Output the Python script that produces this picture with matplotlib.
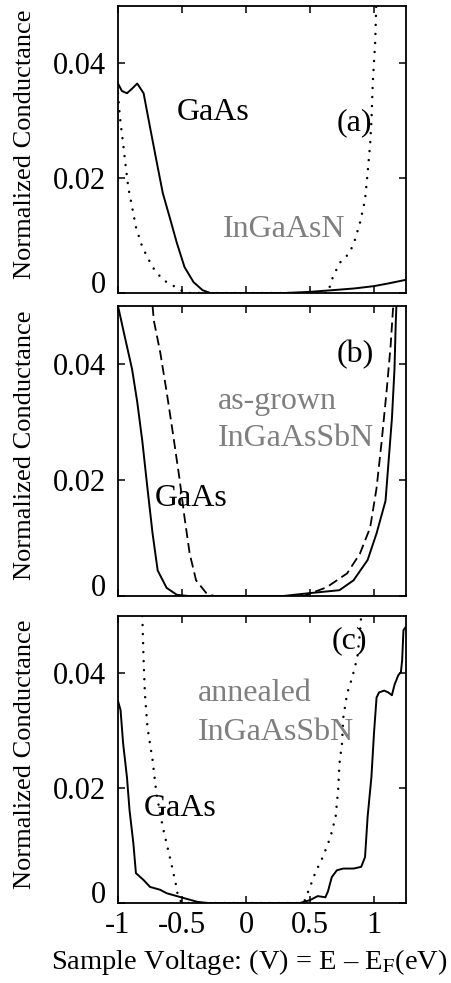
import numpy as np
import matplotlib
matplotlib.use('Agg')
import matplotlib.pyplot as plt

plt.rcParams['font.family'] = ['Liberation Serif', 'DejaVu Serif']
plt.rcParams['mathtext.fontset'] = 'stix'

# ── Data: normalized conductance vs sample voltage ─────────────────────────
# (a) GaAs vs InGaAsN
a_gaas_x = [-1.0, -0.97, -0.93, -0.89, -0.85, -0.80, -0.75, -0.70, -0.65, -0.59,
            -0.54, -0.48, -0.41, -0.34, -0.28, 0.0, 0.3, 0.5, 0.68, 0.85, 1.0, 1.12, 1.25]
a_gaas_y = [0.0365, 0.0352, 0.0348, 0.0356, 0.0365, 0.0348, 0.0289, 0.0231, 0.0174, 0.0127,
            0.0087, 0.0045, 0.0019, 0.0005, 0.0, 0.0, 0.0, 0.0002, 0.0005, 0.0008, 0.0012, 0.0017, 0.0023]
a_ngn_x = [-1.0, -0.985, -0.96, -0.945, -0.92, -0.89, -0.86, -0.81, -0.73, -0.65, -0.54, -0.47,
           0.0, 0.64, 0.67, 0.73, 0.81, 0.85, 0.89, 0.93, 0.95, 0.97, 0.98, 0.99, 1.01, 1.017]
a_ngn_y = [0.0348, 0.0306, 0.026, 0.0231, 0.0184, 0.015, 0.0115, 0.008, 0.0045, 0.0023, 0.0009, 0.0,
           0.0, 0.0, 0.0023, 0.0052, 0.007, 0.0092, 0.0122, 0.0162, 0.0209, 0.026, 0.030, 0.0365, 0.044, 0.050]

# (b) GaAs vs as-grown InGaAsSbN
b_gaas_x = [-1.0, -0.95, -0.89, -0.85, -0.81, -0.77, -0.73, -0.69, -0.62, -0.54, -0.45,
            0.0, 0.29, 0.5, 0.73, 0.84, 0.95, 1.02, 1.09, 1.11, 1.14, 1.16, 1.17, 1.175]
b_gaas_y = [0.05, 0.045, 0.0391, 0.0335, 0.0267, 0.0186, 0.0108, 0.0044, 0.0014, 0.0002, 0.0,
            0.0, 0.0, 0.0005, 0.001, 0.0027, 0.0062, 0.0108, 0.0164, 0.0221, 0.0306, 0.0391, 0.0472, 0.050]
b_sbn_x = [-0.73, -0.72, -0.67, -0.62, -0.57, -0.52, -0.48, -0.44, -0.39, -0.31, -0.25,
           0.0, 0.45, 0.63, 0.79, 0.89, 0.97, 1.02, 1.06, 1.10, 1.13, 1.15]
b_sbn_y = [0.05, 0.0475, 0.042, 0.0352, 0.0279, 0.0203, 0.0135, 0.0073, 0.0027, 0.0005, 0.0,
           0.0, 0.0, 0.0015, 0.0039, 0.0073, 0.0118, 0.0186, 0.0267, 0.0357, 0.0432, 0.050]

# (c) GaAs vs annealed InGaAsSbN
c_gaas_x = [-1.0, -0.98, -0.96, -0.93, -0.91, -0.88, -0.86, -0.80, -0.75, -0.67, -0.62, -0.54,
            -0.46, -0.38, -0.30, 0.0, 0.42, 0.50, 0.56, 0.62, 0.64, 0.67, 0.71, 0.76, 0.84, 0.90,
            0.93, 0.95, 0.98, 1.00, 1.02, 1.04, 1.08, 1.11, 1.14, 1.16, 1.19, 1.21, 1.22, 1.23, 1.245]
c_gaas_y = [0.0352, 0.0336, 0.0278, 0.0219, 0.0162, 0.0104, 0.0052, 0.004, 0.0028, 0.0023, 0.0017, 0.0012,
            0.0007, 0.0002, 0.0, 0.0, 0.0, 0.0005, 0.0012, 0.001, 0.002, 0.0045, 0.0057, 0.006, 0.006, 0.0063,
            0.008, 0.015, 0.022, 0.0296, 0.0358, 0.0367, 0.037, 0.0367, 0.0362, 0.038, 0.0397, 0.0402, 0.0423, 0.0475, 0.048]
c_sbn_x = [-0.81, -0.80, -0.79, -0.77, -0.73, -0.70, -0.65, -0.59, -0.55, -0.53, -0.50,
           0.0, 0.44, 0.46, 0.50, 0.54, 0.60, 0.66, 0.70, 0.72, 0.73, 0.75, 0.76, 0.79, 0.83, 0.87, 0.89, 0.90]
c_sbn_y = [0.05, 0.0423, 0.0365, 0.0306, 0.0249, 0.0191, 0.0132, 0.0075, 0.0035, 0.001, 0.0,
           0.0, 0.0, 0.0005, 0.0028, 0.0052, 0.008, 0.0115, 0.015, 0.0197, 0.0243, 0.0278, 0.0323, 0.0365, 0.0393, 0.0428, 0.047, 0.05]

x_ticks = [-1, -0.5, 0, 0.5, 1]
x_ticklabels = ['-1', '-0.5', '0', '0.5', '1']
y_ticks = [0, 0.02, 0.04]
y_ticklabels = ['0', '0.02', '0.04']

GRAY = '#7f7f7f'
SOLID = dict(color='black', lw=1.4, solid_joinstyle='round')
DOTTED = dict(color='black', lw=1.8, linestyle=(0, (0.01, 3.6)), dash_capstyle='round')
DASHED = dict(color='black', lw=1.3, linestyle=(0, (5.5, 2.8)))
TICK_FS = 22
NOTE_FS = 23

fig = plt.figure(figsize=(4.52, 9.83), dpi=100)
fig.patch.set_facecolor('white')

L, W = 118 / 452, 288 / 452
ax_a = fig.add_axes([L, 1 - 293 / 983, W, 287 / 983])
ax_b = fig.add_axes([L, 1 - 596 / 983, W, 290 / 983])
ax_c = fig.add_axes([L, 1 - 903 / 983, W, 287 / 983])

ax_a.plot(a_gaas_x, a_gaas_y, **SOLID)
ax_a.plot(a_ngn_x, a_ngn_y, **DOTTED)
ax_b.plot(b_gaas_x, b_gaas_y, **SOLID)
ax_b.plot(b_sbn_x, b_sbn_y, **DASHED)
ax_c.plot(c_gaas_x, c_gaas_y, **SOLID)
ax_c.plot(c_sbn_x, c_sbn_y, **DOTTED)

for ax in (ax_a, ax_b, ax_c):
    ax.set_xlim(-1, 1.25)
    ax.set_ylim(0, 0.05)
    ax.set_xticks(x_ticks)
    ax.set_yticks(y_ticks)
    ax.set_yticklabels(y_ticklabels, fontsize=TICK_FS)
    ax.tick_params(direction='in', top=True, right=True, length=5, width=1.1, pad=9)
    ax.tick_params(axis='x', pad=6)
    for sp in ax.spines.values():
        sp.set_linewidth(1.3)
    ax.set_ylabel('Normalized Conductance', fontsize=19)
    ax.yaxis.set_label_coords(-0.285, 0.52)
    # the zero label sits a little above the axis line
    ax.get_yticklabels()[0].set_verticalalignment('baseline')

ax_a.set_xticklabels([])
ax_b.set_xticklabels([])
ax_c.set_xticklabels(x_ticklabels, fontsize=TICK_FS)

# panel annotations
ax_a.text(-0.54, 0.0315, 'GaAs', fontsize=NOTE_FS, va='center')
ax_a.text(0.85, 0.0297, '(a)', fontsize=NOTE_FS, va='center', ha='center')
ax_a.text(-0.18, 0.011, 'InGaAsN', fontsize=NOTE_FS, va='center', color=GRAY)

ax_b.text(0.85, 0.0417, '(b)', fontsize=NOTE_FS, va='center', ha='center')
ax_b.text(-0.22, 0.0335, 'as-grown', fontsize=NOTE_FS, va='center', color=GRAY)
ax_b.text(-0.22, 0.0272, 'InGaAsSbN', fontsize=NOTE_FS, va='center', color=GRAY)
ax_b.text(-0.71, 0.0168, 'GaAs', fontsize=NOTE_FS, va='center')

ax_c.text(0.81, 0.0457, '(c)', fontsize=NOTE_FS, va='center', ha='center')
ax_c.text(-0.375, 0.0365, 'annealed', fontsize=NOTE_FS, va='center', color=GRAY)
ax_c.text(-0.375, 0.0297, 'InGaAsSbN', fontsize=NOTE_FS, va='center', color=GRAY)
ax_c.text(-0.80, 0.0165, 'GaAs', fontsize=NOTE_FS, va='center')

fig.text(249 / 452, 1 - 962 / 983, r'Sample Voltage: (V) = E – E$_\mathrm{F}$(eV)',
         fontsize=20.5, ha='center', va='center')

fig.savefig('out.png', dpi=100, facecolor='white')
